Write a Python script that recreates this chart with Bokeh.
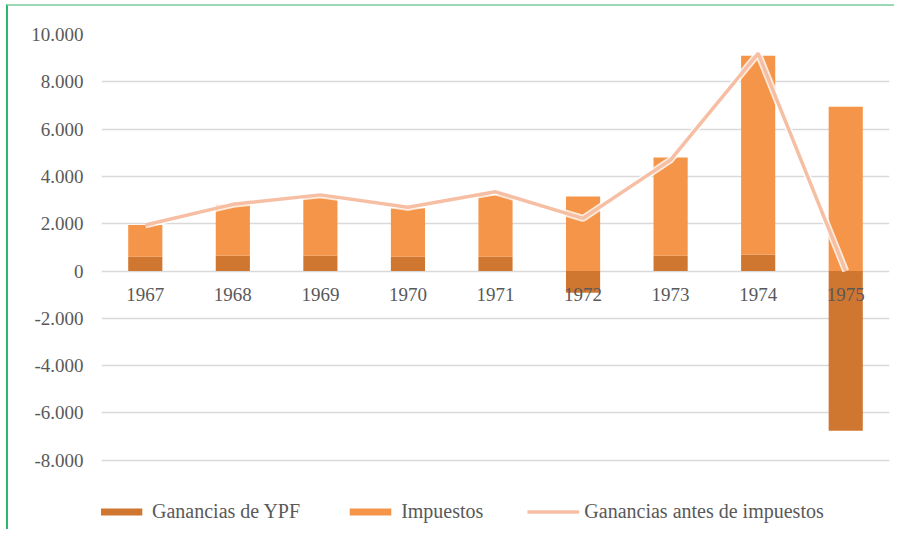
from bokeh.plotting import figure
from bokeh.models import ColumnDataSource, Range1d, FixedTicker, Legend, LegendItem
from bokeh.core.properties import value
from bokeh.embed import file_html
from bokeh.resources import INLINE

years = ["1967", "1968", "1969", "1970", "1971", "1972", "1973", "1974", "1975"]
ganancias_ypf = [600, 650, 650, 600, 600, -920, 650, 700, -6750]
impuestos = [1350, 2150, 2500, 2050, 2600, 3150, 4150, 8400, 6950]
ganancias_antes = [1950, 2820, 3220, 2700, 3350, 2230, 4700, 9200, 0]
y_ticks = [-8000, -6000, -4000, -2000, 0, 2000, 4000, 6000, 8000, 10000]

FONT = "Liberation Serif"
TXT = "#595959"
C_DARK = "#cf7630"
C_ORANGE = "#f5954a"
C_LINE = "#f6bfa4"

imp_bottom = [max(g, 0) for g in ganancias_ypf]
imp_top = [b + i for b, i in zip(imp_bottom, impuestos)]

src = ColumnDataSource(dict(
    x=years, g=ganancias_ypf, zero=[0] * len(years),
    ib=imp_bottom, it=imp_top, line=ganancias_antes,
    lab_y=[-1000] * len(years),
))

p = figure(x_range=years, y_range=Range1d(-11010, 10000),
           width=888, height=525, output_backend="svg", toolbar_location=None,
           min_border_left=93, min_border_right=7, min_border_top=28, min_border_bottom=0)
p.outline_line_color = None
p.background_fill_color = "white"
p.border_fill_color = "white"
p.styles = {"border-left": "2px solid #2fb56e", "border-top": "2px solid #9ad8b5",
            "margin-left": "6px", "margin-top": "4px"}

p.xaxis.visible = False
p.xgrid.grid_line_color = None
p.yaxis.ticker = FixedTicker(ticks=y_ticks)
p.yaxis.major_label_overrides = {t: (f"{t:,}".replace(",", ".")) for t in y_ticks}
p.yaxis.axis_line_color = None
p.yaxis.major_tick_line_color = None
p.yaxis.minor_tick_line_color = None
p.yaxis.major_tick_out = 0
p.yaxis.major_label_standoff = 18
p.yaxis.major_label_text_font = FONT
p.yaxis.major_label_text_font_size = "19px"
p.yaxis.major_label_text_color = TXT
p.ygrid.ticker = FixedTicker(ticks=y_ticks)
p.ygrid.grid_line_color = "#d9d9d9"
p.ygrid.grid_line_width = 1.5

r_g = p.vbar(x="x", bottom="zero", top="g", width=0.39, source=src,
             fill_color=C_DARK, line_color=None)
r_i = p.vbar(x="x", bottom="ib", top="it", width=0.39, source=src,
             fill_color=C_ORANGE, line_color=None)
p.line(x="x", y="line", source=src, line_color="white", line_width=7, line_alpha=0.8)
r_l = p.line(x="x", y="line", source=src, line_color=C_LINE, line_width=3.5)

p.text(x="x", y="lab_y", text="x", source=src, text_align="center",
       text_baseline="middle", text_font=value(FONT), text_font_size="19px",
       text_color=TXT)

legend = Legend(items=[
    LegendItem(label="Ganancias de YPF", renderers=[r_g]),
    LegendItem(label="Impuestos", renderers=[r_i]),
    LegendItem(label="Ganancias antes de impuestos", renderers=[r_l]),
], orientation="horizontal", location=(-6, 8))
legend.label_text_font = FONT
legend.label_text_font_size = "20px"
legend.label_text_color = TXT
legend.glyph_width = 52
legend.glyph_height = 9
legend.label_standoff = 5
legend.spacing = 44
legend.padding = 0
legend.margin = 0
legend.border_line_color = None
legend.background_fill_alpha = 0
p.add_layout(legend, "center")

open("out.html", "w").write(file_html(p, INLINE))
